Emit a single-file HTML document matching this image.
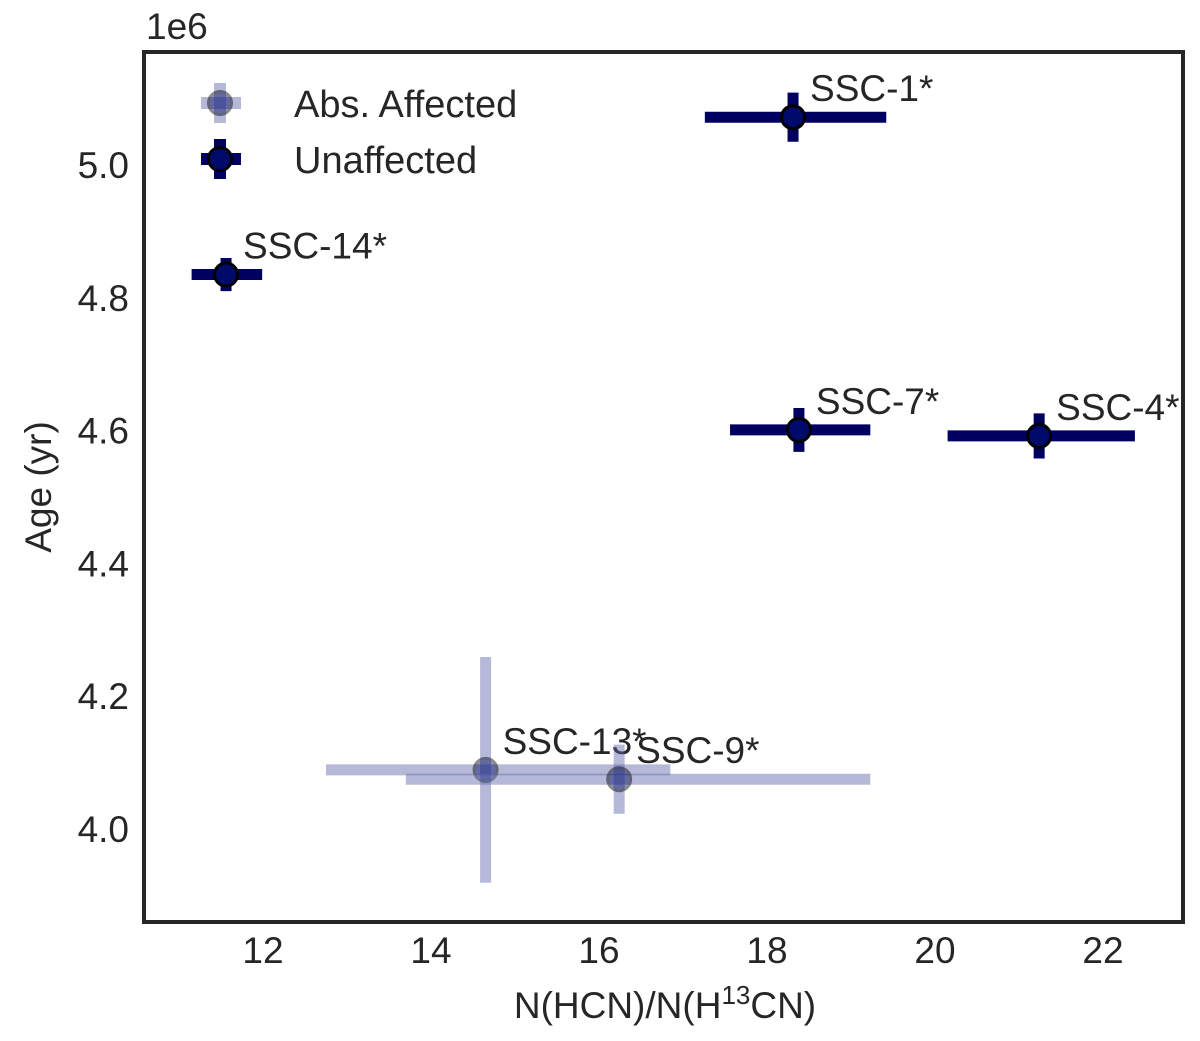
<!DOCTYPE html>
<html><head><meta charset="utf-8"><style>
body{margin:0;background:#fff;}
text{font-family:"Liberation Sans",Arial,sans-serif;fill:#262626;}
</style></head><body>
<svg id="chart" width="1200" height="1036" xmlns="http://www.w3.org/2000/svg">
<rect x="144" y="52" width="1039" height="870" fill="none" stroke="#262626" stroke-width="4"/>
<g id="marks"></g>
<g id="ticks"></g>
<text x="146" y="39" font-size="37">1e6</text>
<text transform="translate(51,487) rotate(-90)" text-anchor="middle" font-size="37">Age (yr)</text>
<text x="665" y="1018" text-anchor="middle" font-size="37">N(HCN)/N(H<tspan dy="-14" font-size="26">13</tspan><tspan dy="14">CN)</tspan></text>
<g>
<g>
<line x1="201" y1="103" x2="241" y2="103" stroke="#5c66a8" stroke-width="12" opacity="0.45"/>
<line x1="220" y1="83" x2="220" y2="123" stroke="#5c66a8" stroke-width="12" opacity="0.45"/>
<circle cx="220" cy="103" r="11.5" fill="#000a6a" stroke="#000" stroke-width="3" opacity="0.45"/>
<text x="294" y="117" font-size="38">Abs. Affected</text></g>
<g>
<line x1="201" y1="159" x2="241" y2="159" stroke="#000060" stroke-width="12"/>
<line x1="220" y1="139" x2="220" y2="179" stroke="#000060" stroke-width="12"/>
<circle cx="220" cy="159" r="11.5" fill="#000a6a" stroke="#000" stroke-width="3"/>
<text x="294" y="173" font-size="38">Unaffected</text></g>
</g>
</svg>
<script>
const names=["SSC-1*","SSC-14*","SSC-7*","SSC-4*","SSC-13*","SSC-9*"];
const xVals=[18.31,11.56,18.38,21.24,14.65,16.24];
const xLo=[17.26,11.15,17.56,20.15,12.75,13.70];
const xHi=[19.42,11.99,19.23,22.38,16.85,19.23];
const yVals=[5.072,4.835,4.601,4.592,4.089,4.075];
const yErr=[0.037,0.025,0.033,0.034,0.17,0.052];
const affected=[false,false,false,false,true,true];
const xTicks=[12,14,16,18,20,22];
const yTicks=[4.0,4.2,4.4,4.6,4.8,5.0];
const X=v=>263+(v-12)*84;
const Y=v=>165-(v-5.0)*664;
const NS="http://www.w3.org/2000/svg";
const marks=document.getElementById('marks'),ticks=document.getElementById('ticks');
function mk(tag,attrs,parent){const e=document.createElementNS(NS,tag);for(const k in attrs)e.setAttribute(k,attrs[k]);parent.appendChild(e);return e;}
xTicks.forEach(t=>{const e=mk('text',{x:X(t),y:963,'text-anchor':'middle','font-size':37},ticks);e.textContent=t;

});
yTicks.forEach(t=>{const e=mk('text',{x:129,y:Y(t)+13,'text-anchor':'end','font-size':37},ticks);e.textContent=t.toFixed(1);

});
const order=[4,5,0,1,2,3];
order.forEach(i=>{
 const g=mk('g',{},marks);
 
 
 const cx=X(xVals[i]),cy=Y(yVals[i]);
 const col=affected[i]?'#5c66a8':'#000060';
 const op=affected[i]?0.45:1;
 mk('line',{x1:X(xLo[i]),x2:X(xHi[i]),y1:cy,y2:cy,stroke:col,'stroke-width':11,opacity:op},g);
 mk('line',{x1:cx,x2:cx,y1:Y(yVals[i]+yErr[i]),y2:Y(yVals[i]-yErr[i]),stroke:col,'stroke-width':11,opacity:op},g);
 mk('circle',{cx:cx,cy:cy,r:11.5,fill:'#000a6a',stroke:'#000','stroke-width':3,opacity:op},g);
 const t=mk('text',{x:cx+17,y:cy-16,'font-size':37},g);t.textContent=names[i];
});
</script>
</body></html>
